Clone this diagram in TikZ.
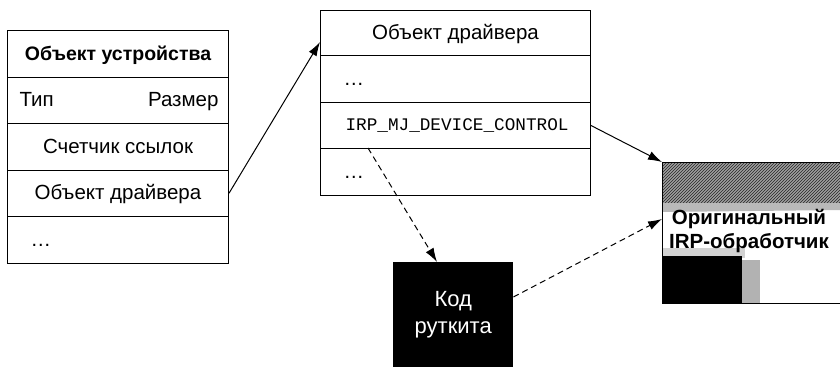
\documentclass[tikz,border=0pt]{standalone}
\usepackage{fontspec}
\setmainfont{Liberation Sans}
\newfontfamily\codefont{Liberation Mono}
\usetikzlibrary{arrows.meta,patterns}
\begin{document}
\begin{tikzpicture}[x=1pt,y=-1pt,
  txt/.style={font=\fontsize{20.5}{23}\selectfont,text height=15pt,text depth=2pt},
  cell/.style={draw,line width=1pt,minimum height=46.5pt,inner sep=0pt,anchor=north west,txt},
  link/.style={line width=1pt,-{Latex[length=14pt,width=9pt]}},
  dlink/.style={link,dash pattern=on 6pt off 4pt}]
\useasboundingbox (0,0) rectangle (840,367);

% device object
\node[cell,minimum width=221pt,font=\fontsize{19.5}{22}\selectfont\bfseries] (d1) at (7,30) {Объект устройства};
\node[cell,minimum width=221pt] (d2) at (7,76.5) {};
\node[anchor=west,txt] (dtype) at ([xshift=9pt]d2.west) {Тип};
\node[anchor=east,txt] (dsize) at ([xshift=-7pt]d2.east) {Размер};
\node[cell,minimum width=221pt] (d3) at (7,123) {Счетчик ссылок};
\node[cell,minimum width=221pt] (d4) at (7,169.5) {Объект драйвера};
\node[cell,minimum width=221pt] (d5) at (7,216) {};
\node[anchor=west,txt] (ddots) at ([xshift=20pt]d5.west) {\dots};

% driver object
\node[cell,minimum width=270pt,minimum height=45pt] (r1) at (320,10) {Объект драйвера};
\node[cell,minimum width=270pt,minimum height=47pt] (r2) at (320,55) {};
\node[anchor=west,txt] (rdots1) at ([xshift=20pt]r2.west) {\dots};
\node[cell,minimum width=270pt,minimum height=46pt] (r3) at (320,102) {};
\node[anchor=west,font=\codefont\fontsize{17.7}{20}\selectfont] (irp) at ([xshift=22pt]r3.west) {IRP\_MJ\_DEVICE\_CONTROL};
\node[cell,minimum width=270pt,minimum height=47pt] (r4) at (320,148) {};
\node[anchor=west,txt] (rdots2) at ([xshift=20pt]r4.west) {\dots};

% original handler (scanned-looking block)
\fill[gray!75] (662,162) rectangle (840,203);
\fill[pattern=north east lines,pattern color=gray!30!black] (662,162) rectangle (840,206);
\fill[gray!55] (662,203) -- (840,203) -- (840,210) -- (662,212) -- cycle;
\fill[gray!35] (662,248) rectangle (745,258);
\fill[black] (662,256) rectangle (742,303);
\fill[gray!60] (742,260) rectangle (760,303);
\node[anchor=north west,minimum width=178pt,minimum height=141pt,inner sep=0pt] (orig) at (662,162) {};
\draw[line width=0.8pt] (840,162) -- (662,162) -- (662,303) -- (840,303);
\node[align=center,font=\fontsize{20.5}{24}\selectfont\bfseries,inner sep=1pt] (origtxt) at (749,231) {Оригинальный\\IRP-обработчик};

% rootkit code
\node[fill=black,text=white,anchor=north west,minimum width=120pt,minimum height=105pt,inner sep=0pt,align=center,font=\fontsize{22}{27}\selectfont] (rk) at (393,262) {Код\\руткита};

% connectors
\coordinate (p2) at (319,42);
\coordinate (q1) at (368,148);
\draw[link] (d4.east) -- (r1.west |- p2);
\draw[link] (r3.east) -- (orig.north west);
\draw[dlink] (q1) -- ([xshift=44pt]rk.north west);
\draw[dlink] ([yshift=-35pt]rk.north east) -- ([yshift=-57pt]orig.north west);
\end{tikzpicture}
\end{document}
